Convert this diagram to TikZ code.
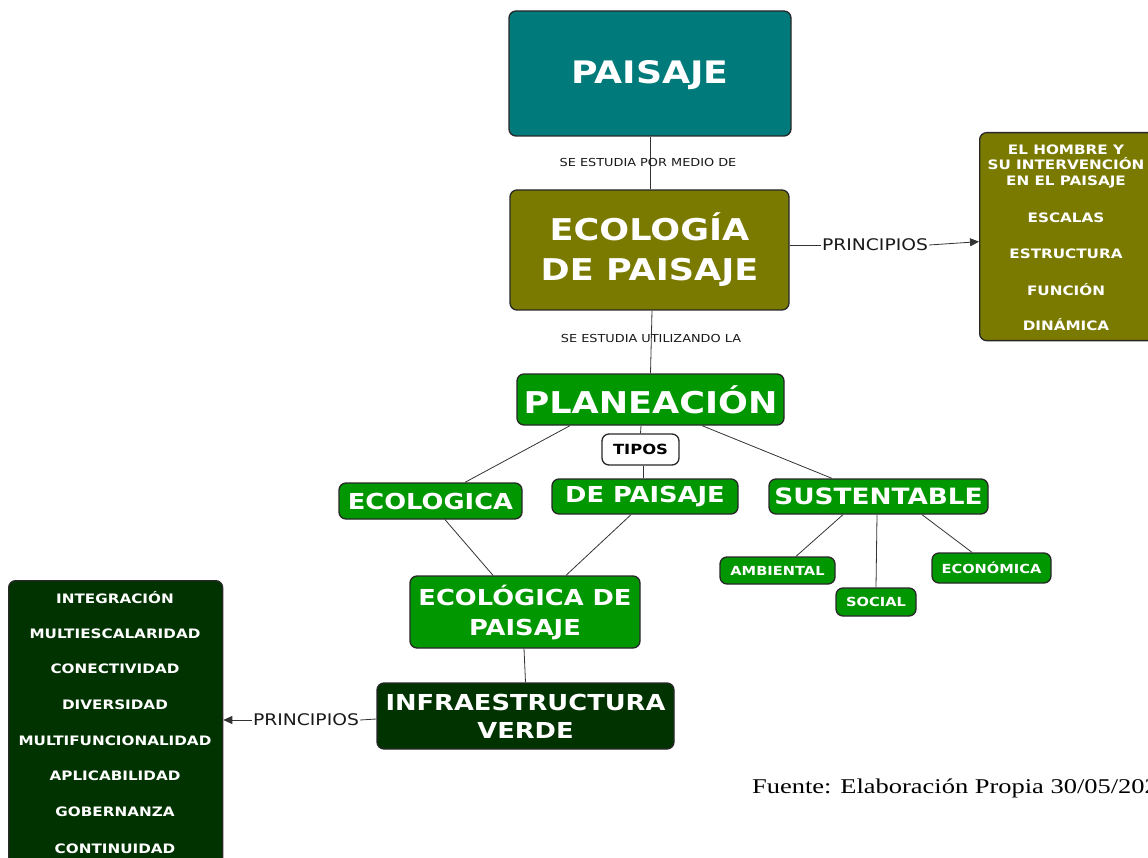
\documentclass[tikz,border=0pt]{standalone}
\usepackage{fontspec}
\setmainfont{DejaVu Sans}[FakeStretch=1.17]
\newfontfamily\serifsrc{Liberation Serif}[FakeStretch=1.26]
\usetikzlibrary{arrows.meta}
\definecolor{teal1}{RGB}{0,122,122}
\definecolor{olive1}{RGB}{122,122,0}
\definecolor{green1}{RGB}{0,151,0}
\definecolor{dgreen}{RGB}{0,51,0}
\definecolor{edge1}{RGB}{40,40,40}
\tikzset{
  box/.style={draw=edge1, line width=1.3pt, rounded corners=7pt, inner sep=0pt, align=center, text=white, font=\bfseries},
  conn/.style={draw=black!80, line width=0.8pt},
  arr/.style={conn, -{Triangle[length=9pt,width=8pt]}},
  lab/.style={font=\fontsize{11}{12}\selectfont, text=black!90, inner sep=1pt},
  lab2/.style={font=\fontsize{16}{17}\selectfont, text=black!90, inner sep=1pt},
  item/.style={font=\bfseries\fontsize{13}{15}\selectfont, text=white, inner sep=0pt},
}
\begin{document}
\begin{tikzpicture}[x=1pt,y=-1pt]
\useasboundingbox (0,0) rectangle (1148,858);
\fill[white] (0,0) rectangle (1148,858);

\node[box, fill=teal1, minimum width=282pt, minimum height=125pt, font=\bfseries\fontsize{31}{36}\selectfont, text depth=2pt] (paisaje) at (650,73.5) {PAISAJE};
\node[box, fill=olive1, minimum width=279pt, minimum height=120pt, font=\bfseries\fontsize{30}{40}\selectfont] (ecol) at (649.5,250) {ECOLOGÍA\\DE PAISAJE};
\node[box, fill=olive1, minimum width=176pt, minimum height=208pt, anchor=north west] (rbox) at (979,132) {};
\node[item, align=center, font=\bfseries\fontsize{13}{15.5}\selectfont] (rtext) at (1066,166) {EL HOMBRE Y\\SU INTERVENCIÓN\\EN EL PAISAJE};
\node[item] (r1) at (1066,218) {ESCALAS};
\node[item] (r2) at (1066,254) {ESTRUCTURA};
\node[item] (r3) at (1066,290) {FUNCIÓN};
\node[item] (r4) at (1066,325) {DINÁMICA};

\node[box, fill=green1, minimum width=267pt, minimum height=51pt, font=\bfseries\fontsize{30}{34}\selectfont] (plan) at (650.5,399.5) {PLANEACIÓN};
\node[box, fill=white, text=black, minimum width=77pt, minimum height=31pt, font=\bfseries\fontsize{14}{16}\selectfont] (tipos) at (640.5,449.5) {TIPOS};
\node[box, fill=green1, minimum width=183pt, minimum height=36pt, font=\bfseries\fontsize{22}{26}\selectfont] (ecologica) at (430.5,501) {ECOLOGICA};
\node[box, fill=green1, minimum width=186pt, minimum height=35pt, font=\bfseries\fontsize{22}{26}\selectfont] (depaisaje) at (645,496.5) {DE PAISAJE};
\node[box, fill=green1, minimum width=219pt, minimum height=35pt, font=\bfseries\fontsize{22.5}{26}\selectfont] (sust) at (878.5,496.5) {SUSTENTABLE};
\node[box, fill=green1, minimum width=115pt, minimum height=27pt, font=\bfseries\fontsize{12.5}{14}\selectfont] (amb) at (777.5,570.5) {AMBIENTAL};
\node[box, fill=green1, minimum width=80pt, minimum height=28pt, font=\bfseries\fontsize{12.5}{14}\selectfont] (social) at (876,602) {SOCIAL};
\node[box, fill=green1, minimum width=119pt, minimum height=30pt, font=\bfseries\fontsize{12.5}{14}\selectfont] (econ) at (991.5,568) {ECONÓMICA};
\node[box, fill=green1, minimum width=230pt, minimum height=72pt, font=\bfseries\fontsize{22}{30}\selectfont] (ecodp) at (525,612) {ECOLÓGICA DE\\PAISAJE};
\node[box, fill=dgreen, minimum width=297pt, minimum height=66pt, font=\bfseries\fontsize{22}{28}\selectfont] (infra) at (525.5,716) {INFRAESTRUCTURA\\VERDE};

\node[box, fill=dgreen, minimum width=214pt, minimum height=300pt, anchor=north west] (lbox) at (8,580) {};
\foreach \t/\yy [count=\i] in {INTEGRACIÓN/598, MULTIESCALARIDAD/634, CONECTIVIDAD/669, DIVERSIDAD/705, MULTIFUNCIONALIDAD/741, APLICABILIDAD/776, GOBERNANZA/812, CONTINUIDAD/849}
  \node[item] (l\i) at (115,\yy) {\t};

% connectors
\draw[conn] (paisaje.south) -- (ecol.north -| paisaje.south);
\node[lab] (lab1) at (648,162) {SE ESTUDIA POR MEDIO DE};
\draw[conn] ([xshift=2.5pt]ecol.south) -- (plan.north);
\node[lab] (lab2) at (651,338) {SE ESTUDIA UTILIZANDO LA};

\node[lab2] (p1) at (875,245) {PRINCIPIOS};
\draw[conn] ([yshift=5pt]ecol.east) -- (p1.west);
\draw[arr] (p1.east) -- ([yshift=-5pt]rbox.west);

\draw[conn] ([xshift=-80.5pt]plan.south) -- ([xshift=34.5pt]ecologica.north);
\draw[conn] ([xshift=-9.5pt]plan.south) -- (tipos.north);
\draw[conn] ([xshift=2.5pt]tipos.south) -- ([xshift=-2pt]depaisaje.north);
\draw[conn] ([xshift=51.5pt]plan.south) -- ([xshift=-46.5pt]sust.north);
\draw[conn] ([xshift=-35.5pt]sust.south) -- ([xshift=18.5pt]amb.north);
\draw[conn] ([xshift=-1.5pt]sust.south) -- (social.north);
\draw[conn] ([xshift=43.5pt]sust.south) -- ([xshift=-19.5pt]econ.north);
\draw[conn] ([xshift=14.5pt]ecologica.south) -- ([xshift=-32pt]ecodp.north);
\draw[conn] ([xshift=-14pt]depaisaje.south) -- ([xshift=41pt]ecodp.north);
\draw[conn] ([xshift=-1pt]ecodp.south) -- (infra.north);

\node[lab2] (p2) at (306,720) {PRINCIPIOS};
\draw[conn] ([yshift=-3pt]infra.west) -- (p2.east);
\draw[arr] (p2.west) -- (lbox.east |- p2.west);

\node[font=\serifsrc\fontsize{21}{24}\selectfont, anchor=west, inner sep=0pt] (fuente) at (752,788) {Fuente: Elaboración Propia 30/05/2021};
\end{tikzpicture}
\end{document}
